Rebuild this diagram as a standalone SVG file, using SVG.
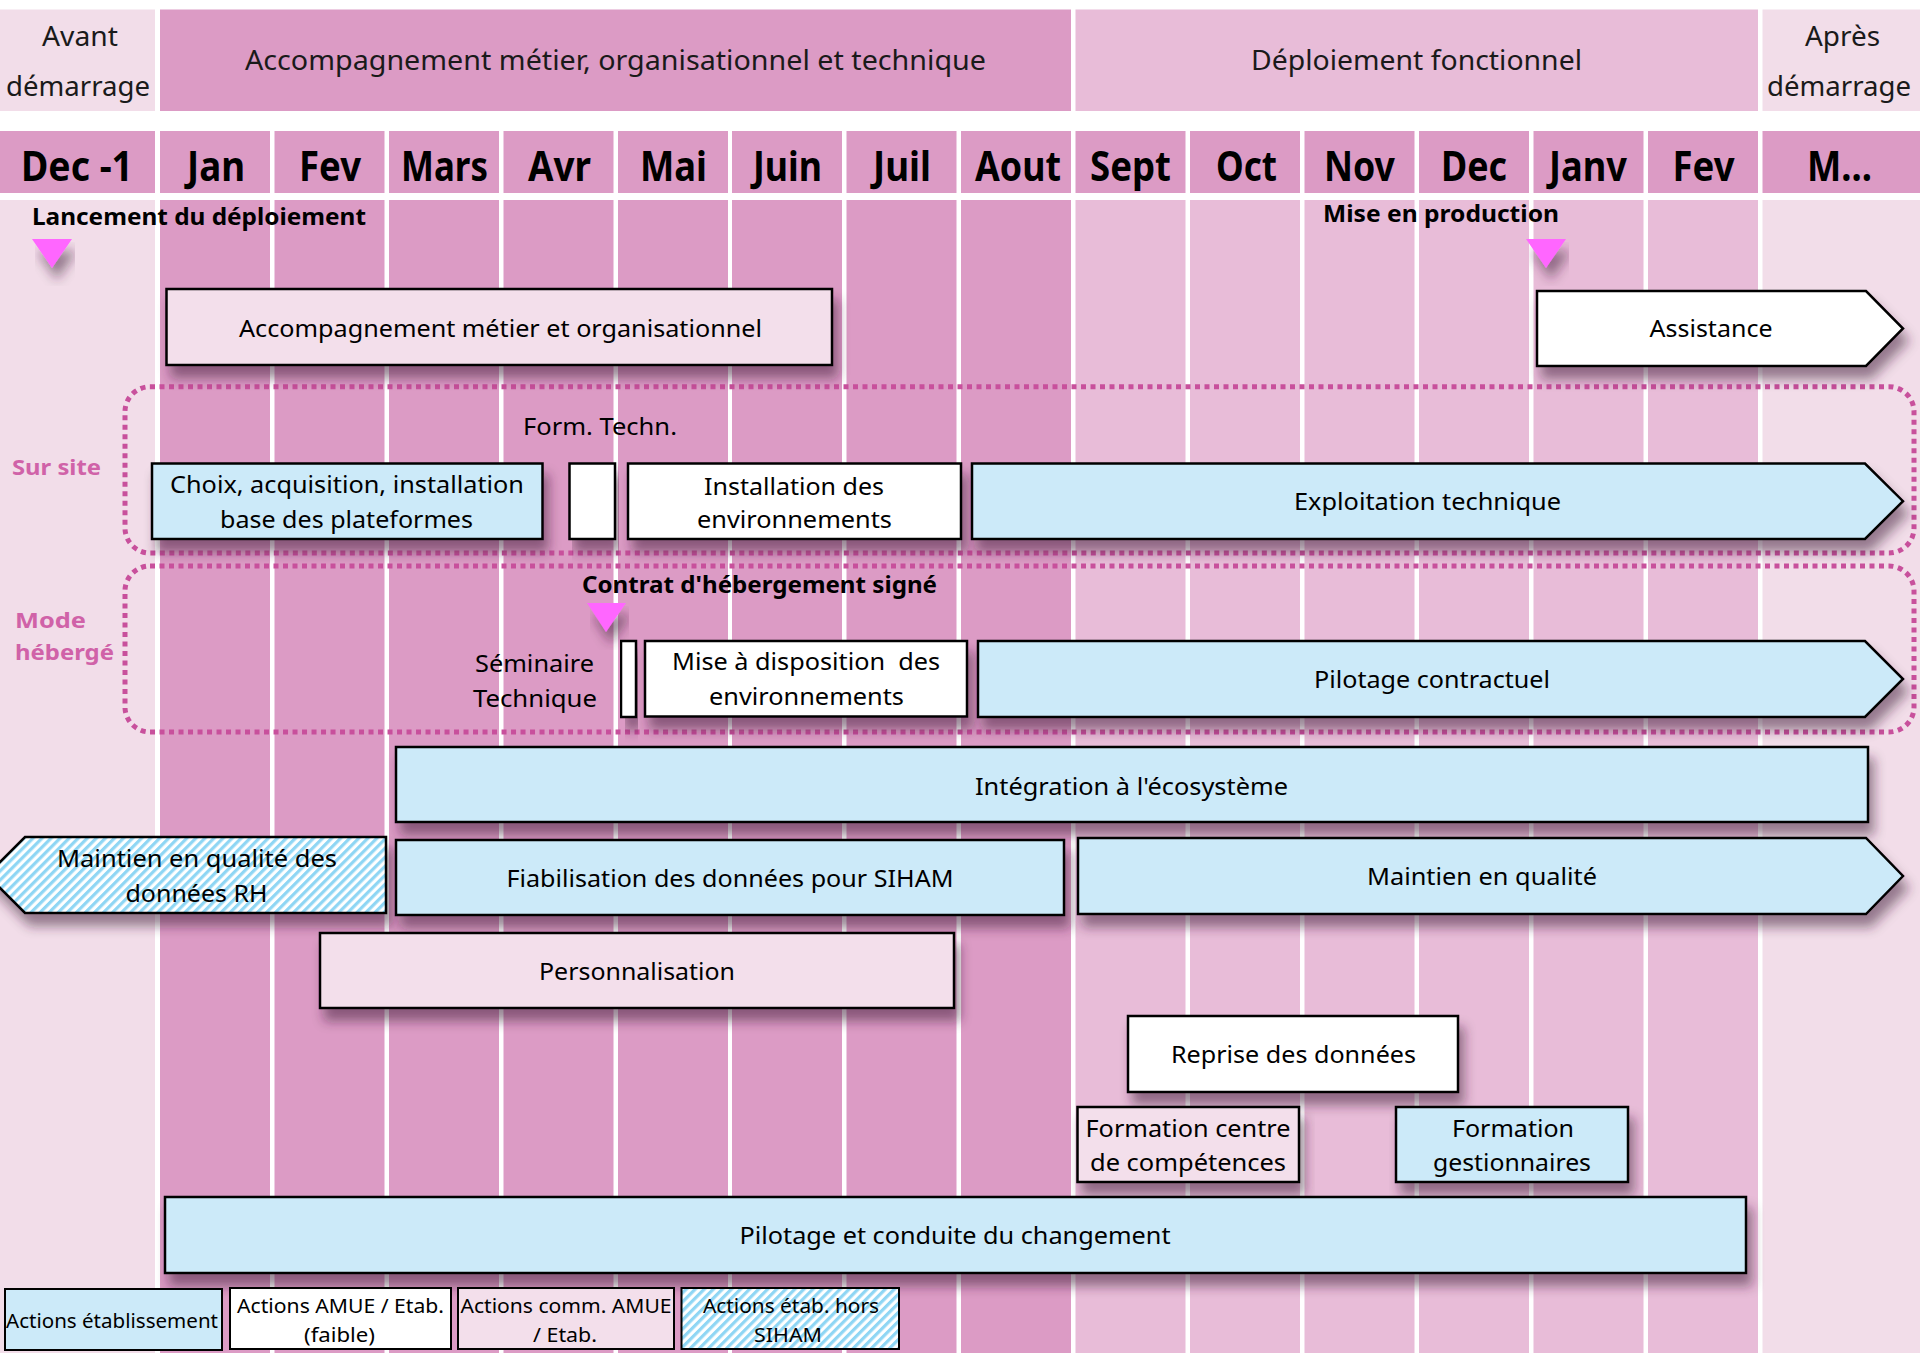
<svg xmlns="http://www.w3.org/2000/svg" width="1920" height="1353" viewBox="0 0 1920 1353">
<defs>
<style>
text{font-family:'Noto Sans','Open Sans','DejaVu Sans',sans-serif;fill:#000}
.box{stroke:#000;stroke-width:2.5;filter:url(#sh)}
.lgb{stroke:#000;stroke-width:2}
.blue{fill:#cceaf9}
.pink{fill:#f3dfeb}
.white{fill:#fff}
.hatch{fill:url(#hatch)}
.t{font-size:23px;text-anchor:middle}
.m{font-size:42px;font-weight:bold;text-anchor:middle}
.h{font-size:28px;text-anchor:middle;fill:#1a1a1a}
.b{font-size:24px;font-weight:bold}
.side{font-size:22px;font-weight:bold;fill:#d062a8}
.lg{font-size:20px;text-anchor:middle}
.dot{fill:none;stroke:#c8509c;stroke-width:5;stroke-dasharray:5 4.5}
.tri{fill:#ff66ff;filter:url(#sh)}
.c1{fill:#dc9bc5}
.c2{fill:#e8bcd8}
.c3{fill:#f2dde9}
</style>
<filter id="sh" x="-5%" y="-30%" width="112%" height="190%">
<feGaussianBlur in="SourceAlpha" stdDeviation="6"/>
<feOffset dx="5" dy="12" result="o"/>
<feFlood flood-color="#3a1a34" flood-opacity="0.5"/>
<feComposite in2="o" operator="in"/>
<feMerge><feMergeNode/><feMergeNode in="SourceGraphic"/></feMerge>
</filter>
<pattern id="hatch" patternUnits="userSpaceOnUse" width="6.4" height="6.4" patternTransform="rotate(45)">
<rect width="6.4" height="6.4" fill="#fff"/>
<rect width="3.2" height="6.4" fill="#8fd6f4"/>
</pattern>
</defs>
<rect width="1920" height="1353" fill="#fff"/>

<g id="background">
<rect class="c3" x="0" y="9.5" width="155" height="101.5"/>
<rect class="c1" x="160" y="9.5" width="911" height="101.5"/>
<rect class="c2" x="1075.5" y="9.5" width="682.5" height="101.5"/>
<rect class="c3" x="1762.5" y="9.5" width="157.5" height="101.5"/>
<rect class="c1" x="0" y="131" width="155" height="62"/>
<rect class="c1" x="160" y="131" width="110" height="62"/>
<rect class="c1" x="274.5" y="131" width="110" height="62"/>
<rect class="c1" x="389" y="131" width="110" height="62"/>
<rect class="c1" x="503.5" y="131" width="110" height="62"/>
<rect class="c1" x="618" y="131" width="110" height="62"/>
<rect class="c1" x="732" y="131" width="110" height="62"/>
<rect class="c1" x="846.5" y="131" width="110" height="62"/>
<rect class="c1" x="961" y="131" width="110" height="62"/>
<rect class="c1" x="1075.5" y="131" width="110" height="62"/>
<rect class="c1" x="1190" y="131" width="110" height="62"/>
<rect class="c1" x="1304.5" y="131" width="110" height="62"/>
<rect class="c1" x="1419" y="131" width="110" height="62"/>
<rect class="c1" x="1533.5" y="131" width="110" height="62"/>
<rect class="c1" x="1648" y="131" width="110" height="62"/>
<rect class="c1" x="1762.5" y="131" width="157.5" height="62"/>
<rect class="c3" x="0" y="200" width="155" height="1153"/>
<rect class="c1" x="160" y="200" width="110" height="1153"/>
<rect class="c1" x="274.5" y="200" width="110" height="1153"/>
<rect class="c1" x="389" y="200" width="110" height="1153"/>
<rect class="c1" x="503.5" y="200" width="110" height="1153"/>
<rect class="c1" x="618" y="200" width="110" height="1153"/>
<rect class="c1" x="732" y="200" width="110" height="1153"/>
<rect class="c1" x="846.5" y="200" width="110" height="1153"/>
<rect class="c1" x="961" y="200" width="110" height="1153"/>
<rect class="c2" x="1075.5" y="200" width="110" height="1153"/>
<rect class="c2" x="1190" y="200" width="110" height="1153"/>
<rect class="c2" x="1304.5" y="200" width="110" height="1153"/>
<rect class="c2" x="1419" y="200" width="110" height="1153"/>
<rect class="c2" x="1533.5" y="200" width="110" height="1153"/>
<rect class="c2" x="1648" y="200" width="110" height="1153"/>
<rect class="c3" x="1762.5" y="200" width="157.5" height="1153"/>
</g>

<g id="phase-labels">
<text class="h" x="80" y="46" textLength="76" lengthAdjust="spacingAndGlyphs">Avant</text>
<text class="h" x="78" y="96" textLength="144" lengthAdjust="spacingAndGlyphs">démarrage</text>
<text class="h" x="615.5" y="70" textLength="741" lengthAdjust="spacingAndGlyphs">Accompagnement métier, organisationnel et technique</text>
<text class="h" x="1416.5" y="70" textLength="331" lengthAdjust="spacingAndGlyphs">Déploiement fonctionnel</text>
<text class="h" x="1842.5" y="46" textLength="75" lengthAdjust="spacingAndGlyphs">Après</text>
<text class="h" x="1839" y="96" textLength="144" lengthAdjust="spacingAndGlyphs">démarrage</text>
</g>

<g id="month-labels">
<text class="m" x="77" y="181" textLength="112" lengthAdjust="spacingAndGlyphs">Dec -1</text>
<text class="m" x="216" y="181" textLength="58" lengthAdjust="spacingAndGlyphs">Jan</text>
<text class="m" x="330" y="181" textLength="62" lengthAdjust="spacingAndGlyphs">Fev</text>
<text class="m" x="444.5" y="181" textLength="87" lengthAdjust="spacingAndGlyphs">Mars</text>
<text class="m" x="559.5" y="181" textLength="63" lengthAdjust="spacingAndGlyphs">Avr</text>
<text class="m" x="673.5" y="181" textLength="67" lengthAdjust="spacingAndGlyphs">Mai</text>
<text class="m" x="787.5" y="181" textLength="69" lengthAdjust="spacingAndGlyphs">Juin</text>
<text class="m" x="902" y="181" textLength="58" lengthAdjust="spacingAndGlyphs">Juil</text>
<text class="m" x="1018" y="181" textLength="86" lengthAdjust="spacingAndGlyphs">Aout</text>
<text class="m" x="1130.5" y="181" textLength="81" lengthAdjust="spacingAndGlyphs">Sept</text>
<text class="m" x="1246.5" y="181" textLength="61" lengthAdjust="spacingAndGlyphs">Oct</text>
<text class="m" x="1359.5" y="181" textLength="71" lengthAdjust="spacingAndGlyphs">Nov</text>
<text class="m" x="1474" y="181" textLength="66" lengthAdjust="spacingAndGlyphs">Dec</text>
<text class="m" x="1588" y="181" textLength="78" lengthAdjust="spacingAndGlyphs">Janv</text>
<text class="m" x="1703.5" y="181" textLength="62" lengthAdjust="spacingAndGlyphs">Fev</text>
<text class="m" x="1839.5" y="181" textLength="65" lengthAdjust="spacingAndGlyphs">M...</text>
</g>

<g id="zones">
<rect class="dot" x="125" y="386.7" width="1789" height="166.3" rx="25" ry="25"/>
<rect class="dot" x="125" y="566" width="1789" height="166" rx="25" ry="25"/>
<text class="side" x="12" y="475" textLength="89" lengthAdjust="spacingAndGlyphs">Sur site</text>
<text class="side" x="15" y="628" textLength="71" lengthAdjust="spacingAndGlyphs">Mode</text>
<text class="side" x="15" y="660" textLength="99" lengthAdjust="spacingAndGlyphs">hébergé</text>
</g>

<g id="milestone-lancement">
<polygon class="tri" points="32,239 72,239 52,268"/>
<text class="b" x="32" y="225" textLength="334" lengthAdjust="spacingAndGlyphs">Lancement du déploiement</text>
</g>
<g id="milestone-production">
<polygon class="tri" points="1526,239 1566,239 1546,268"/>
<text class="b" x="1323" y="222" textLength="236" lengthAdjust="spacingAndGlyphs">Mise en production</text>
</g>
<g id="milestone-contrat">
<polygon class="tri" points="587,603 626,603 606,632"/>
<text class="b" x="582" y="593" textLength="355" lengthAdjust="spacingAndGlyphs">Contrat d'hébergement signé</text>
</g>

<g id="accompagnement">
<rect class="box pink" x="166.5" y="289" width="665.5" height="76"/>
<text class="t" x="500.5" y="337" textLength="523" lengthAdjust="spacingAndGlyphs">Accompagnement métier et organisationnel</text>
</g>
<g id="assistance">
<polygon class="box white" points="1537,291 1866,291 1903,328.5 1866,366 1537,366"/>
<text class="t" x="1711" y="337" textLength="123" lengthAdjust="spacingAndGlyphs">Assistance</text>
</g>

<g id="form-techn">
<text class="t" x="600" y="435" textLength="154" lengthAdjust="spacingAndGlyphs">Form. Techn.</text>
<rect class="box white" x="569.5" y="463.5" width="45.5" height="75.5"/>
</g>
<g id="choix">
<rect class="box blue" x="152" y="463.5" width="390.5" height="75.5"/>
<text class="t" x="347" y="493" textLength="354" lengthAdjust="spacingAndGlyphs">Choix, acquisition, installation</text>
<text class="t" x="346.5" y="528" textLength="253" lengthAdjust="spacingAndGlyphs">base des plateformes</text>
</g>
<g id="installation">
<rect class="box white" x="628" y="463.5" width="333" height="75.5"/>
<text class="t" x="794" y="495" textLength="180" lengthAdjust="spacingAndGlyphs">Installation des</text>
<text class="t" x="794.5" y="528" textLength="195" lengthAdjust="spacingAndGlyphs">environnements</text>
</g>
<g id="exploitation">
<polygon class="box blue" points="972,463.5 1865,463.5 1903,501.2 1865,539 972,539"/>
<text class="t" x="1427.5" y="510" textLength="267" lengthAdjust="spacingAndGlyphs">Exploitation technique</text>
</g>

<g id="seminaire">
<text class="t" x="534.5" y="672" textLength="119" lengthAdjust="spacingAndGlyphs">Séminaire</text>
<text class="t" x="535" y="707" textLength="124" lengthAdjust="spacingAndGlyphs">Technique</text>
<rect class="box white" x="621" y="641" width="15" height="76"/>
</g>
<g id="mise-a-disposition">
<rect class="box white" x="645" y="641" width="322" height="75.5"/>
<text class="t" x="806" y="670" textLength="268" lengthAdjust="spacingAndGlyphs" xml:space="preserve">Mise à disposition  des</text>
<text class="t" x="806.5" y="705" textLength="195" lengthAdjust="spacingAndGlyphs">environnements</text>
</g>
<g id="pilotage-contractuel">
<polygon class="box blue" points="978,641 1865,641 1903,679 1865,717 978,717"/>
<text class="t" x="1432" y="688" textLength="236" lengthAdjust="spacingAndGlyphs">Pilotage contractuel</text>
</g>

<g id="integration">
<rect class="box blue" x="396" y="747" width="1472" height="75"/>
<text class="t" x="1131.5" y="795" textLength="313" lengthAdjust="spacingAndGlyphs">Intégration à l'écosystème</text>
</g>
<g id="maintien-rh">
<polygon class="box hatch" points="386,837 25,837 -13,875 25,913 386,913"/>
<text class="t" x="197" y="867" textLength="280" lengthAdjust="spacingAndGlyphs">Maintien en qualité des</text>
<text class="t" x="196.5" y="902" textLength="142" lengthAdjust="spacingAndGlyphs">données RH</text>
</g>
<g id="fiabilisation">
<rect class="box blue" x="396" y="840" width="668" height="75"/>
<text class="t" x="730" y="887" textLength="447" lengthAdjust="spacingAndGlyphs">Fiabilisation des données pour SIHAM</text>
</g>
<g id="maintien">
<polygon class="box blue" points="1078,838 1866,838 1903,876 1866,914 1078,914"/>
<text class="t" x="1482" y="885" textLength="230" lengthAdjust="spacingAndGlyphs">Maintien en qualité</text>
</g>
<g id="personnalisation">
<rect class="box pink" x="320" y="933" width="634" height="75"/>
<text class="t" x="637" y="980" textLength="196" lengthAdjust="spacingAndGlyphs">Personnalisation</text>
</g>
<g id="reprise">
<rect class="box white" x="1128" y="1016" width="330" height="76"/>
<text class="t" x="1293.5" y="1063" textLength="245" lengthAdjust="spacingAndGlyphs">Reprise des données</text>
</g>
<g id="formation-centre">
<rect class="box pink" x="1077.5" y="1107" width="221.5" height="75"/>
<text class="t" x="1188" y="1137" textLength="205" lengthAdjust="spacingAndGlyphs">Formation centre</text>
<text class="t" x="1188" y="1171" textLength="196" lengthAdjust="spacingAndGlyphs">de compétences</text>
</g>
<g id="formation-gestionnaires">
<rect class="box blue" x="1396" y="1107" width="232" height="75"/>
<text class="t" x="1513" y="1137" textLength="122" lengthAdjust="spacingAndGlyphs">Formation</text>
<text class="t" x="1512" y="1171" textLength="158" lengthAdjust="spacingAndGlyphs">gestionnaires</text>
</g>
<g id="pilotage-changement">
<rect class="box blue" x="165" y="1197" width="1581" height="76"/>
<text class="t" x="955" y="1244" textLength="431" lengthAdjust="spacingAndGlyphs">Pilotage et conduite du changement</text>
</g>

<g id="legend">
<rect class="lgb blue" x="5" y="1289" width="217" height="61"/>
<text class="lg" x="112" y="1328" textLength="212" lengthAdjust="spacingAndGlyphs">Actions établissement</text>
<rect class="lgb white" x="230" y="1288" width="221" height="61"/>
<text class="lg" x="340.5" y="1313" textLength="207" lengthAdjust="spacingAndGlyphs">Actions AMUE / Etab.</text>
<text class="lg" x="339.5" y="1342" textLength="71" lengthAdjust="spacingAndGlyphs">(faible)</text>
<rect class="lgb pink" x="458" y="1288" width="216" height="61"/>
<text class="lg" x="566" y="1313" textLength="211" lengthAdjust="spacingAndGlyphs">Actions comm. AMUE</text>
<text class="lg" x="565" y="1342" textLength="64" lengthAdjust="spacingAndGlyphs">/ Etab.</text>
<rect class="lgb hatch" x="681.5" y="1288" width="217.5" height="61"/>
<text class="lg" x="791" y="1313" textLength="176" lengthAdjust="spacingAndGlyphs">Actions étab. hors</text>
<text class="lg" x="788" y="1342" textLength="68" lengthAdjust="spacingAndGlyphs">SIHAM</text>
</g>
</svg>
